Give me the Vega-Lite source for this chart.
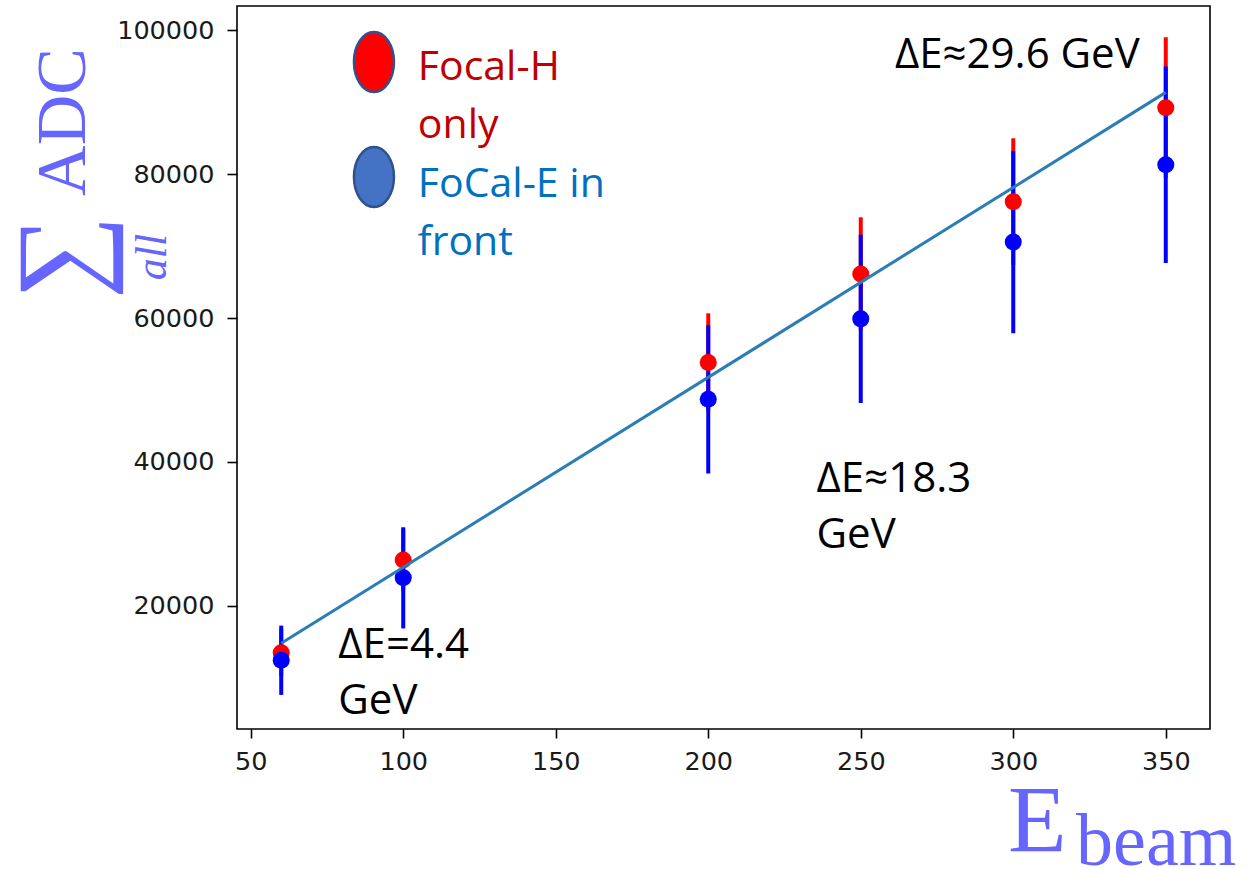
{
  "$schema": "https://vega.github.io/schema/vega-lite/v6.json",
  "width": 973,
  "height": 723,
  "autosize": {"type": "none"},
  "padding": {"left": 237, "top": 6, "right": 43, "bottom": 140},
  "background": "white",
  "config": {
    "view": {"stroke": "#000000", "strokeWidth": 1.6},
    "axis": {"domain": false, "grid": false, "tickColor": "#000000", "tickWidth": 1.6, "labelFont": "DejaVu Sans", "labelFontSize": 25.5, "labelColor": "#1a1a1a", "title": null},
    "axisX": {"tickSize": 9, "labelPadding": 11},
    "axisY": {"tickSize": 10, "labelPadding": 13}
  },
  "datasets": {
    "points": [
      {"E": 60, "series": "Focal-H only", "adc": 13500, "err": 3300},
      {"E": 100, "series": "Focal-H only", "adc": 26380, "err": 4300},
      {"E": 200, "series": "Focal-H only", "adc": 53820, "err": 6835},
      {"E": 250, "series": "Focal-H only", "adc": 66115, "err": 7878},
      {"E": 300, "series": "Focal-H only", "adc": 76160, "err": 8809},
      {"E": 350, "series": "Focal-H only", "adc": 89220, "err": 9781},
      {"E": 60, "series": "FoCal-E in front", "adc": 12450, "err": 4814},
      {"E": 100, "series": "FoCal-E in front", "adc": 23900, "err": 7030},
      {"E": 200, "series": "FoCal-E in front", "adc": 48700, "err": 10302},
      {"E": 250, "series": "FoCal-E in front", "adc": 59880, "err": 11684},
      {"E": 300, "series": "FoCal-E in front", "adc": 70550, "err": 12664},
      {"E": 350, "series": "FoCal-E in front", "adc": 81300, "err": 13658}
    ],
    "fit": [
      {"E": 60, "adc": 14800},
      {"E": 350, "adc": 91350}
    ],
    "legend": [
      {"series": "Focal-H only", "E": 90.4, "adc": 95570},
      {"series": "FoCal-E in front", "E": 90.4, "adc": 79592}
    ],
    "notes": [
      {"kind": "legendH", "text": "Focal-H\nonly", "E": 104.8, "adc": 93069},
      {"kind": "legendE", "text": "FoCal-E in\nfront", "E": 104.8, "adc": 76813},
      {"kind": "delta", "text": "ΔE=4.4\nGeV", "E": 78.7, "adc": 12723},
      {"kind": "delta", "text": "ΔE≈18.3\nGeV", "E": 235.5, "adc": 35828},
      {"kind": "delta", "text": "ΔE≈29.6 GeV", "E": 261.2, "adc": 94694},
      {"kind": "titleE", "text": "E", "E": 298.3, "adc": -14189},
      {"kind": "titleBeam", "text": "beam", "E": 320.6, "adc": -16000},
      {"kind": "titleADC", "text": "ADC", "E": -4.33, "adc": 87234},
      {"kind": "titleSum", "text": "∑", "E": 0.0, "adc": 68477},
      {"kind": "titleAll", "text": "all", "E": 22.3, "adc": 68477}
    ]
  },
  "layer": [
    {
      "data": {"name": "points"},
      "mark": {"type": "errorbar", "thickness": 4, "ticks": false},
      "encoding": {
        "x": {"field": "E", "type": "quantitative", "title": null, "scale": {"domain": [45.5, 364.5], "nice": false, "zero": false},
              "axis": {"title": null, "values": [50, 100, 150, 200, 250, 300, 350], "format": "d"}},
        "y": {"field": "adc", "type": "quantitative", "title": null, "scale": {"domain": [2900, 103350], "nice": false, "zero": false},
              "axis": {"title": null, "values": [20000, 40000, 60000, 80000, 100000], "format": "d"}},
        "yError": {"field": "err"},
        "color": {"field": "series", "type": "nominal", "scale": {"domain": ["Focal-H only", "FoCal-E in front"], "range": ["#ff0000", "#0000ff"]}, "legend": null}
      }
    },
    {
      "data": {"name": "points"},
      "mark": {"type": "circle", "size": 290, "opacity": 1},
      "encoding": {
        "x": {"field": "E", "type": "quantitative", "title": null, "scale": {"domain": [45.5, 364.5], "nice": false, "zero": false}},
        "y": {"field": "adc", "type": "quantitative", "title": null, "scale": {"domain": [2900, 103350], "nice": false, "zero": false}},
        "color": {"field": "series", "type": "nominal", "scale": {"domain": ["Focal-H only", "FoCal-E in front"], "range": ["#ff0000", "#0000ff"]}, "legend": null}
      }
    },
    {
      "data": {"name": "fit"},
      "mark": {"type": "line", "color": "#2a7db5", "strokeWidth": 3},
      "encoding": {
        "x": {"field": "E", "type": "quantitative", "title": null, "scale": {"domain": [45.5, 364.5], "nice": false, "zero": false}},
        "y": {"field": "adc", "type": "quantitative", "title": null, "scale": {"domain": [2900, 103350], "nice": false, "zero": false}}
      }
    },
    {
      "data": {"name": "legend"},
      "mark": {"type": "point", "shape": "M0,-1 A0.6667,1 0 1,1 0,1 A0.6667,1 0 1,1 0,-1 Z", "size": 3600, "filled": true, "stroke": "#2f528f", "strokeWidth": 2.5, "opacity": 1, "strokeOpacity": 1},
      "encoding": {
        "x": {"field": "E", "type": "quantitative", "title": null, "scale": {"domain": [45.5, 364.5], "nice": false, "zero": false}},
        "y": {"field": "adc", "type": "quantitative", "title": null, "scale": {"domain": [2900, 103350], "nice": false, "zero": false}},
        "fill": {"field": "series", "type": "nominal", "scale": {"domain": ["Focal-H only", "FoCal-E in front"], "range": ["#ff0000", "#4472c4"]}, "legend": null}
      }
    },
    {
      "data": {"name": "notes"},
      "transform": [{"filter": "datum.kind === 'legendH'"}],
      "mark": {"type": "text", "font": "Open Sans", "fontSize": 41, "color": "#c00000", "align": "left", "baseline": "alphabetic", "lineBreak": "\n", "lineHeight": 58},
      "encoding": {
        "x": {"field": "E", "type": "quantitative", "title": null, "scale": {"domain": [45.5, 364.5], "nice": false, "zero": false}},
        "y": {"field": "adc", "type": "quantitative", "title": null, "scale": {"domain": [2900, 103350], "nice": false, "zero": false}},
        "text": {"field": "text"}
      }
    },
    {
      "data": {"name": "notes"},
      "transform": [{"filter": "datum.kind === 'legendE'"}],
      "mark": {"type": "text", "font": "Open Sans", "fontSize": 41, "color": "#0070c0", "align": "left", "baseline": "alphabetic", "lineBreak": "\n", "lineHeight": 58},
      "encoding": {
        "x": {"field": "E", "type": "quantitative", "title": null, "scale": {"domain": [45.5, 364.5], "nice": false, "zero": false}},
        "y": {"field": "adc", "type": "quantitative", "title": null, "scale": {"domain": [2900, 103350], "nice": false, "zero": false}},
        "text": {"field": "text"}
      }
    },
    {
      "data": {"name": "notes"},
      "transform": [{"filter": "datum.kind === 'delta'"}],
      "mark": {"type": "text", "font": "Open Sans", "fontSize": 42, "color": "#000000", "align": "left", "baseline": "alphabetic", "lineBreak": "\n", "lineHeight": 56},
      "encoding": {
        "x": {"field": "E", "type": "quantitative", "title": null, "scale": {"domain": [45.5, 364.5], "nice": false, "zero": false}},
        "y": {"field": "adc", "type": "quantitative", "title": null, "scale": {"domain": [2900, 103350], "nice": false, "zero": false}},
        "text": {"field": "text"}
      }
    },
    {
      "data": {"name": "notes"},
      "transform": [{"filter": "datum.kind === 'titleE'"}],
      "mark": {"type": "text", "font": "Liberation Serif", "fontSize": 96, "color": "#6666ff", "align": "left", "baseline": "alphabetic"},
      "encoding": {
        "x": {"field": "E", "type": "quantitative", "title": null, "scale": {"domain": [45.5, 364.5], "nice": false, "zero": false}},
        "y": {"field": "adc", "type": "quantitative", "title": null, "scale": {"domain": [2900, 103350], "nice": false, "zero": false}},
        "text": {"field": "text"}
      }
    },
    {
      "data": {"name": "notes"},
      "transform": [{"filter": "datum.kind === 'titleBeam'"}],
      "mark": {"type": "text", "font": "Liberation Serif", "fontSize": 74, "color": "#6666ff", "align": "left", "baseline": "alphabetic"},
      "encoding": {
        "x": {"field": "E", "type": "quantitative", "title": null, "scale": {"domain": [45.5, 364.5], "nice": false, "zero": false}},
        "y": {"field": "adc", "type": "quantitative", "title": null, "scale": {"domain": [2900, 103350], "nice": false, "zero": false}},
        "text": {"field": "text"}
      }
    },
    {
      "data": {"name": "notes"},
      "transform": [{"filter": "datum.kind === 'titleADC'"}],
      "mark": {"type": "text", "font": "Liberation Serif", "fontSize": 70, "color": "#6666ff", "align": "center", "baseline": "alphabetic", "angle": 270},
      "encoding": {
        "x": {"field": "E", "type": "quantitative", "title": null, "scale": {"domain": [45.5, 364.5], "nice": false, "zero": false}},
        "y": {"field": "adc", "type": "quantitative", "title": null, "scale": {"domain": [2900, 103350], "nice": false, "zero": false}},
        "text": {"field": "text"}
      }
    },
    {
      "data": {"name": "notes"},
      "transform": [{"filter": "datum.kind === 'titleSum'"}],
      "mark": {"type": "text", "font": "Liberation Serif", "fontSize": 118, "color": "#6666ff", "align": "center", "baseline": "alphabetic", "angle": 270},
      "encoding": {
        "x": {"field": "E", "type": "quantitative", "title": null, "scale": {"domain": [45.5, 364.5], "nice": false, "zero": false}},
        "y": {"field": "adc", "type": "quantitative", "title": null, "scale": {"domain": [2900, 103350], "nice": false, "zero": false}},
        "text": {"field": "text"}
      }
    },
    {
      "data": {"name": "notes"},
      "transform": [{"filter": "datum.kind === 'titleAll'"}],
      "mark": {"type": "text", "font": "Liberation Serif", "fontSize": 44, "fontStyle": "italic", "color": "#6666ff", "align": "center", "baseline": "alphabetic", "angle": 270},
      "encoding": {
        "x": {"field": "E", "type": "quantitative", "title": null, "scale": {"domain": [45.5, 364.5], "nice": false, "zero": false}},
        "y": {"field": "adc", "type": "quantitative", "title": null, "scale": {"domain": [2900, 103350], "nice": false, "zero": false}},
        "text": {"field": "text"}
      }
    }
  ]
}
